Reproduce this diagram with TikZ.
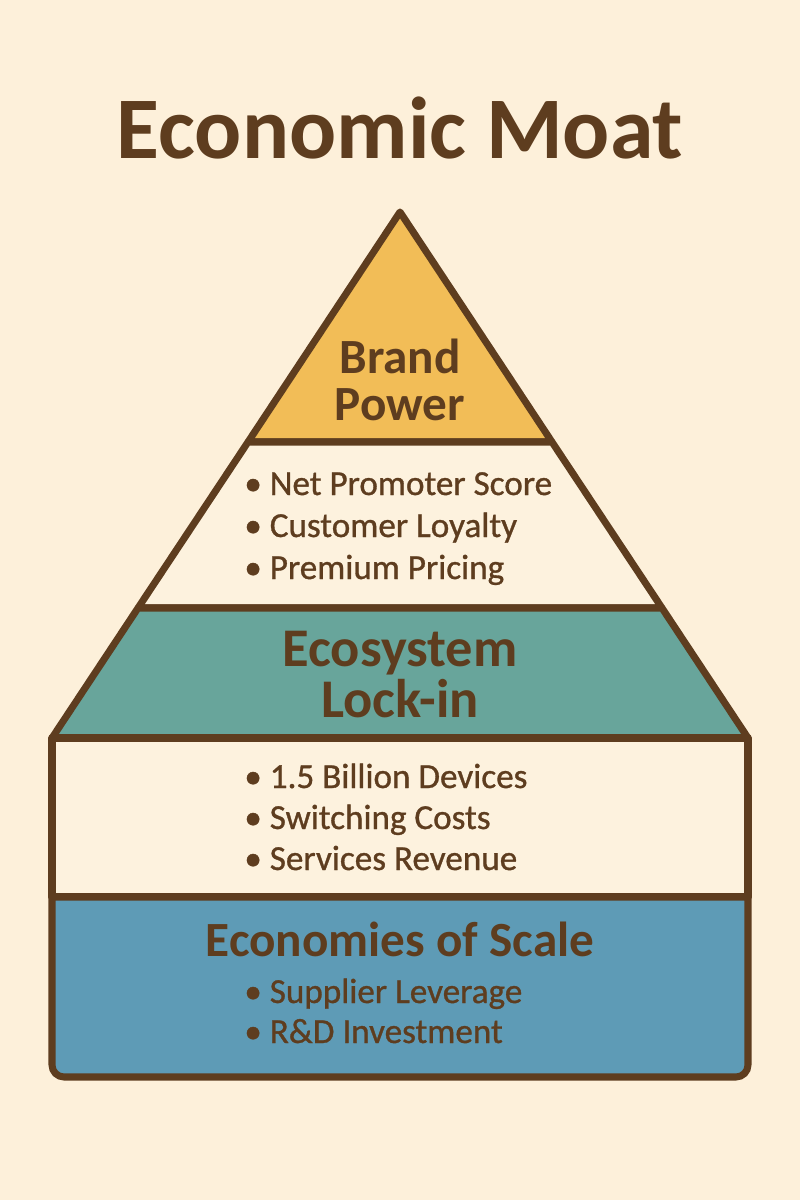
\documentclass[tikz,border=0pt]{standalone}
\usepackage{fontspec}
\setmainfont{Carlito}
\newfontfamily\itemfont[FakeBold=0.9]{Carlito}

\definecolor{moatbg}{HTML}{FDF0DA}
\definecolor{moatline}{HTML}{5E3D1F}
\definecolor{brandfill}{HTML}{F2BD57}
\definecolor{ecofill}{HTML}{68A59B}
\definecolor{scalefill}{HTML}{5E9BB6}
\definecolor{bandfill}{HTML}{FDF2DE}

\begin{document}
\begin{tikzpicture}[
        x=0.02cm, y=-0.02cm,
        layer/.style={draw=moatline, line width=4pt, line join=round},
        title/.style={text=moatline, font=\fontsize{50}{50}\selectfont\bfseries, inner sep=0pt},
        head/.style={text=moatline, font=\fontsize{28}{26.5}\selectfont\bfseries, align=center, inner sep=0pt},
        item/.style={text=moatline, font=\itemfont\fontsize{20}{22}\selectfont, anchor=base west, inner sep=0pt},
      ]
        % background and page size
        \fill[moatbg] (0,0) rectangle (800,1200);
        \useasboundingbox (0,0) rectangle (800,1200);

        \node[title, anchor=base] (title) at (400,158) {Economic Moat};

        % pyramid layers, top to bottom
        \path[layer, fill=brandfill] (400,212) -- (552,442) -- (248,442) -- cycle;
        \path[layer, fill=bandfill] (248,442) -- (552,442) -- (662,608) -- (138,608) -- cycle;
        \path[layer, fill=ecofill] (138,608) -- (662,608) -- (748,738) -- (52,738) -- cycle;
        \path[layer, fill=bandfill] (52,738) rectangle (748,897);
        \path[layer, fill=scalefill] (52,897) -- (748,897) -- (748,1065)
          arc[start angle=0, end angle=90, radius=12] -- (64,1077)
          arc[start angle=90, end angle=180, radius=12] -- cycle;

        % layer titles
        \node[head] (brand) at (400,380) {Brand\\Power};
        \node[head, font=\fontsize{31}{29}\selectfont\bfseries] (eco) at (400,675) {Ecosystem\\Lock-in};
        \node[head, anchor=base] (scale) at (400,956) {Economies of Scale};

        % bullet points
        \foreach \t [count=\i] in {Net Promoter Score, Customer Loyalty, Premium Pricing} {
          \node[item] (brand\i) at (244, 453+42*\i) {\textbullet\ \t};
        }
        \foreach \t [count=\i] in {1.5 Billion Devices, Switching Costs, Services Revenue} {
          \node[item] (eco\i) at (244, 747+41*\i) {\textbullet\ \t};
        }
        \foreach \t [count=\i] in {Supplier Leverage, R\&D Investment} {
          \node[item] (scale\i) at (244, 963+40*\i) {\textbullet\ \t};
        }
      \end{tikzpicture}
\end{document}
